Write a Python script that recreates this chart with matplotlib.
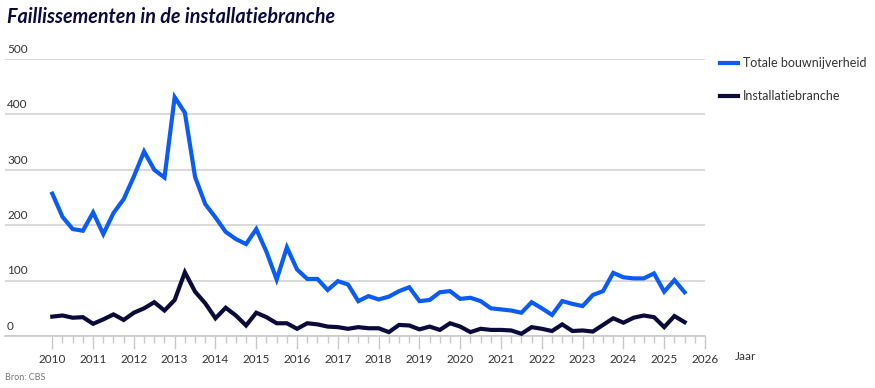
import numpy as np
import matplotlib
matplotlib.use("Agg")
import matplotlib.pyplot as plt
from matplotlib.transforms import blended_transform_factory

# kwartaaldata, eerste punt = Q1 2010
start_year = 2010
totaal = [257, 215, 193, 190, 223, 184, 222, 247,
          288, 333, 300, 286, 431, 403, 287, 238,
          214, 188, 175, 166, 193, 152, 102, 160,
          120, 103, 103, 83, 99, 93, 63, 72,
          66, 71, 81, 88, 63, 65, 79, 81,
          67, 69, 63, 50, 48, 46, 42, 61,
          50, 38, 63, 58, 54, 74, 81, 114,
          106, 104, 104, 113, 80, 101, 79]
installatie = [35, 37, 33, 34, 22, 30, 39, 29,
               42, 50, 61, 46, 65, 115, 80, 59,
               32, 51, 37, 19, 42, 34, 23, 23,
               13, 23, 21, 17, 16, 13, 16, 14,
               14, 7, 20, 19, 12, 17, 11, 23,
               17, 7, 13, 11, 11, 10, 4, 16,
               13, 9, 21, 9, 10, 8, 20, 32,
               24, 33, 37, 34, 16, 36, 25]
series_names = ["Totale bouwnijverheid", "Installatiebranche"]
year_ticks = list(range(2010, 2027))
y_ticks = [0, 100, 200, 300, 400, 500]

blauw = "#0a5cf2"
navy = "#0b0b3b"
tekst = "#333333"

plt.rcParams["font.family"] = ["Lato", "DejaVu Sans"]

W, H = 875, 388
fig = plt.figure(figsize=(W / 100, H / 100), dpi=100)

x0_px, x1_px = 5, 705
y0_px, y1_px = 336, 59
ax = fig.add_axes([x0_px / W, 1 - y0_px / H, (x1_px - x0_px) / W, (y0_px - y1_px) / H])

kwartalen = start_year + np.arange(len(totaal)) * 0.25
ax.plot(kwartalen, totaal, color=blauw, lw=3, solid_joinstyle="miter", zorder=3)
ax.plot(kwartalen, installatie, color=navy, lw=3, solid_joinstyle="miter", zorder=3)

px_per_year = (705 - 52.3) / 16
ax.set_xlim(2010 - (52.3 - x0_px) / px_per_year, 2026)
ax.set_ylim(0, 500)

for s in ["top", "right", "left"]:
    ax.spines[s].set_visible(False)
ax.spines["bottom"].set_color("#c8c8c8")
ax.spines["bottom"].set_linewidth(1.2)

ax.set_yticks(y_ticks)
ax.yaxis.grid(True, color="#cfcfcf", lw=1.1)
ax.tick_params(axis="y", length=0, labelleft=False)
ax.set_axisbelow(True)

ax.set_xticks(year_ticks)
ax.set_xticklabels([str(j) for j in year_ticks])
ax.set_xticks(np.arange(2010, 2026.01, 0.25), minor=True)
ax.tick_params(axis="x", which="major", length=9, width=1, color="#c8c8c8",
               labelsize=8.5, labelcolor=tekst, pad=4)
ax.tick_params(axis="x", which="minor", length=5, width=1, color="#c8c8c8")

# y-labels boven de rasterlijnen
trans = blended_transform_factory(ax.transAxes, ax.transData)
for v in y_ticks:
    ax.annotate(str(v), xy=(2 / 700, v), xycoords=trans, xytext=(0, 3),
                textcoords="offset points", ha="left", va="bottom",
                fontsize=8.5, color=tekst)

fig.text(735 / W, 1 - 356 / H, "Jaar", ha="left", va="center", fontsize=8.5, color=tekst)

fig.text(7 / W, 1 - 17 / H, "Faillissementen in de installatiebranche",
         ha="left", va="center", fontsize=14.2, fontweight="bold",
         fontstyle="italic", color="#0b0b3b")

fig.text(5 / W, 1 - 378 / H, "Bron: CBS", ha="left", va="center", fontsize=6.5, color="#777777")

# legenda
for naam, kleur, ypx in [(series_names[0], blauw, 63), (series_names[1], navy, 96)]:
    fig.add_artist(plt.Line2D([720 / W, 738 / W], [1 - ypx / H, 1 - ypx / H],
                              color=kleur, lw=3, transform=fig.transFigure))
    fig.text(743 / W, 1 - ypx / H, naam, ha="left", va="center", fontsize=9, color=tekst)

fig.savefig("out.png", dpi=100)
